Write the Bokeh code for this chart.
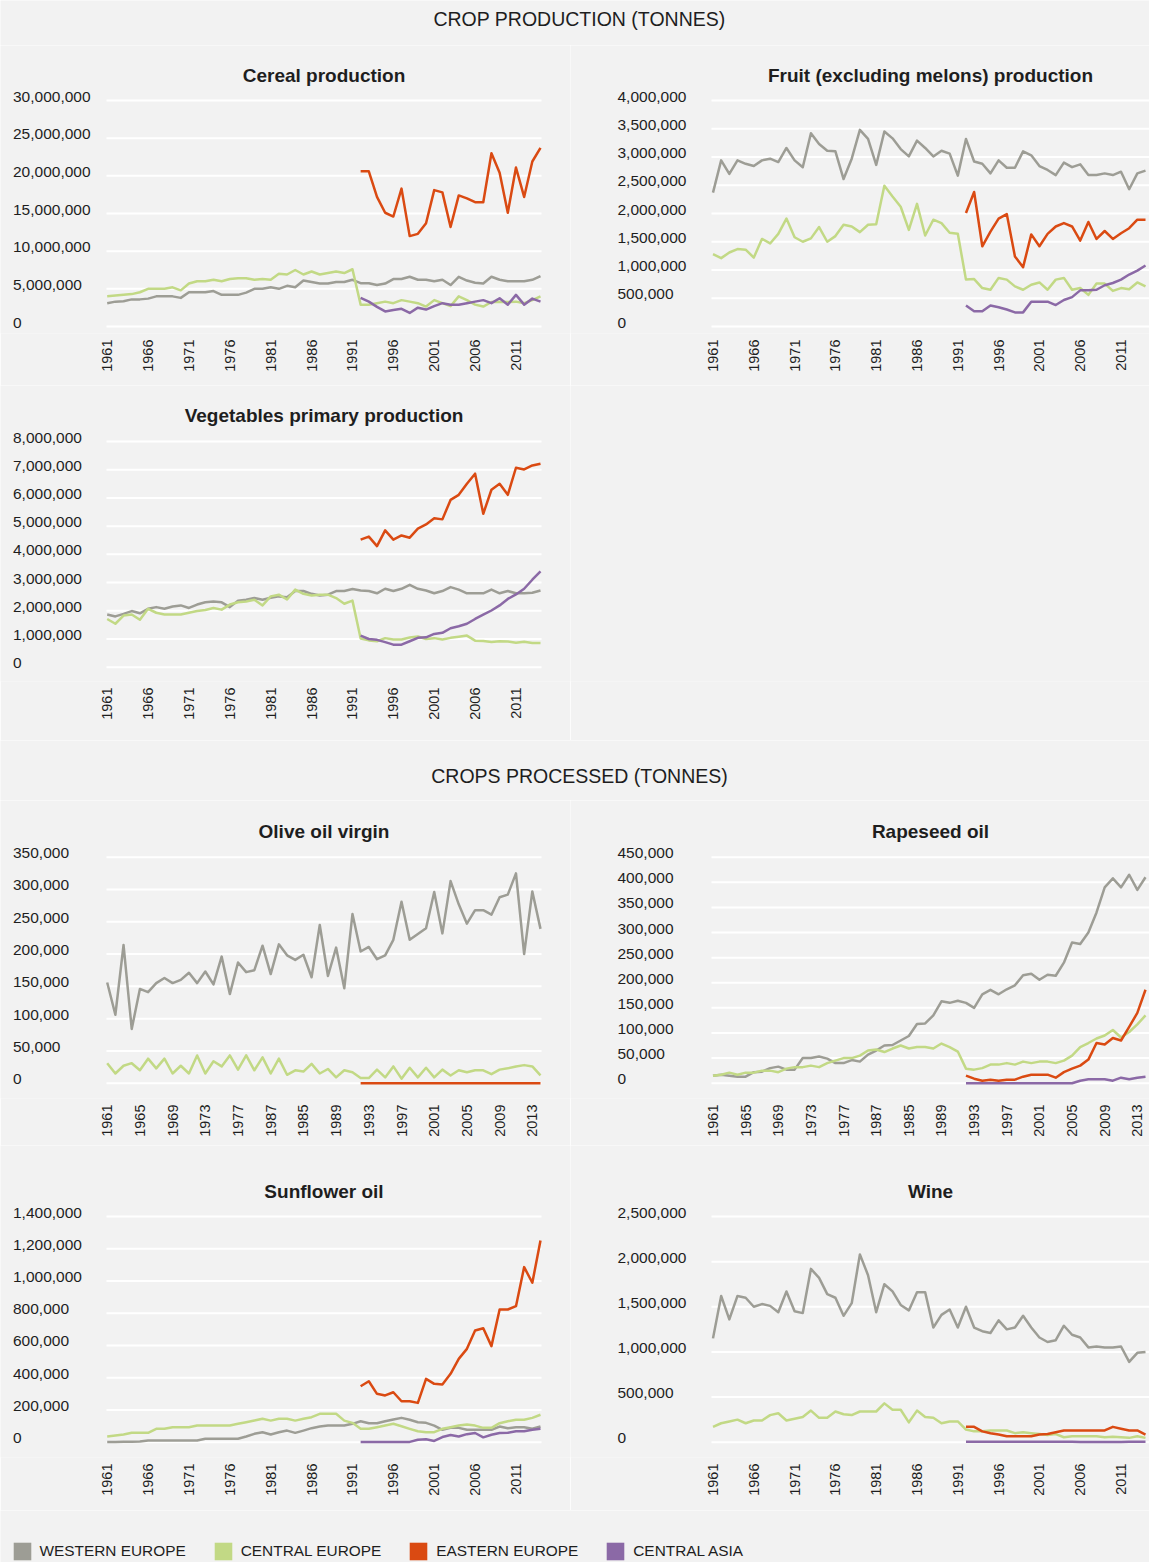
import math
from bokeh.plotting import figure
from bokeh.layouts import column, row
from bokeh.models import Range1d, FixedTicker, Legend, LegendItem
from bokeh.core.properties import value
from bokeh.embed import file_html
from bokeh.resources import INLINE

# ------------------------------------------------------------------ data
YEARS = list(range(1961, 2015))          # all series
YEARS_1992 = list(range(1992, 2015))     # Eastern Europe / Central Asia series

REGIONS = ["WESTERN EUROPE", "CENTRAL EUROPE", "EASTERN EUROPE", "CENTRAL ASIA"]

# Cereal production (million tonnes)
cereal_west = [3.1, 3.3, 3.35, 3.6, 3.6, 3.7, 4.0, 4.0, 4.0, 3.8, 4.55, 4.55, 4.55, 4.7, 4.2, 4.2, 4.2, 4.5,
               5.0, 5.0, 5.2, 5.0, 5.4, 5.2, 6.1, 5.9, 5.7, 5.7, 5.9, 5.9, 6.2, 5.75, 5.75, 5.5, 5.7, 6.3,
               6.3, 6.6, 6.2, 6.2, 6.0, 6.2, 5.5, 6.6, 6.1, 5.8, 5.7, 6.6, 6.2, 6.0, 6.0, 6.0, 6.2, 6.7]
cereal_central = [4.0, 4.1, 4.2, 4.3, 4.55, 5.0, 5.0, 5.0, 5.2, 4.8, 5.7, 6.0, 6.0, 6.2, 6.0, 6.3, 6.4, 6.4,
                  6.2, 6.3, 6.2, 7.0, 6.9, 7.5, 6.9, 7.3, 6.9, 7.1, 7.3, 7.1, 7.6,
                  2.9, 2.9, 3.1, 3.3, 3.1, 3.5, 3.3, 3.1, 2.65, 3.5, 3.1, 2.7, 4.0, 3.5, 2.9, 2.65, 3.25,
                  3.3, 3.25, 3.3, 3.1, 3.5, 4.0]
cereal_east = [20.6, 20.6, 17.2, 15.1, 14.6, 18.3, 12.0, 12.3, 13.7, 18.1, 17.8, 13.2, 17.4, 17.0, 16.5,
               16.5, 23.0, 20.4, 15.1, 21.1, 17.2, 21.9, 23.7]
cereal_asia = [3.8, 3.3, 2.6, 2.0, 2.2, 2.35, 1.8, 2.5, 2.25, 2.7, 3.1, 2.9, 2.9, 3.1, 3.3, 3.5, 3.1, 3.75,
               2.9, 4.2, 2.9, 3.7, 3.3]

# Fruit (excluding melons) production (million tonnes)
fruit_west = [2.37, 2.94, 2.70, 2.94, 2.88, 2.84, 2.94, 2.97, 2.91, 3.16, 2.94, 2.82, 3.42, 3.23, 3.11, 3.10,
              2.61, 2.97, 3.48, 3.32, 2.86, 3.45, 3.33, 3.14, 3.01, 3.29, 3.16, 3.01, 3.11, 3.06, 2.67, 3.32,
              2.92, 2.88, 2.71, 2.94, 2.81, 2.81, 3.10, 3.03, 2.84, 2.77, 2.68, 2.90, 2.82, 2.87, 2.68, 2.68,
              2.71, 2.68, 2.74, 2.43, 2.71, 2.76]
fruit_central = [1.28, 1.21, 1.31, 1.37, 1.36, 1.22, 1.55, 1.47, 1.64, 1.91, 1.58, 1.50, 1.56, 1.76, 1.50,
                 1.60, 1.80, 1.77, 1.67, 1.80, 1.81, 2.49, 2.30, 2.12, 1.71, 2.17, 1.61, 1.89, 1.83, 1.66,
                 1.64, 0.83, 0.84, 0.68, 0.65, 0.86, 0.83, 0.71, 0.65, 0.74, 0.78, 0.65, 0.83, 0.86, 0.65,
                 0.68, 0.56, 0.76, 0.76, 0.63, 0.68, 0.66, 0.78, 0.71]
fruit_east = [2.01, 2.38, 1.42, 1.68, 1.91, 1.99, 1.24, 1.05, 1.63, 1.42, 1.64, 1.77, 1.83, 1.77, 1.52, 1.85,
              1.55, 1.69, 1.55, 1.65, 1.74, 1.89, 1.89]
fruit_asia = [0.37, 0.27, 0.27, 0.37, 0.34, 0.30, 0.25, 0.25, 0.44, 0.44, 0.44, 0.38, 0.47, 0.52, 0.64, 0.64,
              0.65, 0.73, 0.77, 0.83, 0.92, 0.99, 1.08]

# Vegetables primary production (million tonnes)
veg_west = [1.87, 1.80, 1.89, 1.99, 1.91, 2.07, 2.13, 2.07, 2.15, 2.19, 2.10, 2.22, 2.30, 2.33, 2.30, 2.13,
            2.36, 2.39, 2.45, 2.39, 2.46, 2.51, 2.48, 2.70, 2.70, 2.60, 2.54, 2.57, 2.70, 2.70, 2.77, 2.72,
            2.70, 2.62, 2.78, 2.70, 2.78, 2.92, 2.78, 2.72, 2.62, 2.70, 2.84, 2.75, 2.62, 2.62, 2.62, 2.75,
            2.62, 2.70, 2.62, 2.62, 2.64, 2.72]
veg_central = [1.71, 1.54, 1.83, 1.87, 1.68, 2.07, 1.93, 1.87, 1.87, 1.87, 1.93, 1.99, 2.03, 2.10, 2.04, 2.22,
               2.30, 2.33, 2.39, 2.19, 2.51, 2.57, 2.40, 2.75, 2.60, 2.54, 2.57, 2.57, 2.45, 2.25, 2.36,
               1.02, 0.95, 0.92, 1.03, 0.98, 0.98, 1.05, 1.09, 1.00, 1.03, 0.98, 1.04, 1.08, 1.12, 0.94,
               0.93, 0.89, 0.92, 0.91, 0.87, 0.90, 0.86, 0.86]
veg_east = [4.52, 4.63, 4.29, 4.85, 4.52, 4.67, 4.59, 4.91, 5.06, 5.28, 5.24, 5.93, 6.11, 6.50, 6.86, 5.44,
            6.29, 6.50, 6.11, 7.07, 7.01, 7.15, 7.21]
veg_asia = [1.12, 1.00, 0.97, 0.89, 0.80, 0.80, 0.92, 1.04, 1.06, 1.18, 1.22, 1.38, 1.45, 1.54, 1.71, 1.86,
            2.01, 2.19, 2.42, 2.58, 2.78, 3.10, 3.40]

# Olive oil virgin (thousand tonnes)
olive_west = [156, 106, 214, 84, 146, 141, 155, 163, 155, 160, 171, 155, 173, 153, 196, 138, 187, 172, 175,
              213, 169, 215, 198, 191, 199, 164, 245, 166, 210, 147, 262, 204, 211, 192, 198, 222, 281, 222,
              231, 240, 296, 232, 313, 277, 247, 268, 268, 261, 288, 292, 325, 200, 297, 239]
olive_central = [31, 15, 27, 31, 20, 38, 23, 38, 15, 27, 15, 43, 15, 34, 26, 43, 21, 43, 20, 40, 15, 38, 13,
                 20, 18, 30, 15, 22, 9, 20, 17, 8, 8, 21, 9, 26, 7, 24, 9, 24, 9, 21, 12, 20, 17, 20, 20,
                 14, 21, 23, 26, 28, 26, 12]
olive_east = [0, 0, 0, 0, 0, 0, 0, 0, 0, 0, 0, 0, 0, 0, 0, 0, 0, 0, 0, 0, 0, 0, 0]

# Rapeseed oil (thousand tonnes)
rape_west = [15, 17, 15, 13, 13, 22, 23, 30, 33, 27, 27, 50, 50, 53, 49, 40, 40, 46, 43, 57, 65, 75, 76, 85,
             94, 118, 119, 135, 163, 160, 164, 160, 150, 177, 186, 177, 187, 195, 215, 218, 206, 216, 214,
             240, 280, 277, 300, 340, 390, 408, 390, 415, 385, 410]
rape_central = [15, 17, 21, 17, 21, 21, 25, 25, 22, 29, 32, 32, 35, 32, 40, 45, 50, 50, 55, 65, 67, 62, 69,
                75, 69, 72, 72, 69, 79, 72, 63, 29, 27, 30, 37, 37, 40, 37, 43, 40, 43, 43, 40, 45, 55, 72,
                80, 89, 95, 106, 91, 102, 117, 135]
rape_east = [15, 9, 5, 7, 5, 7, 7, 13, 17, 17, 17, 11, 22, 29, 35, 47, 80, 77, 90, 85, 112, 140, 186]
rape_asia = [0, 0, 0, 0, 0, 0, 0, 0, 0, 0, 0, 0, 0, 0, 5, 8, 8, 8, 5, 11, 8, 11, 13]

# Sunflower oil (thousand tonnes)
sun_west = [2, 2, 3, 3, 4, 10, 10, 10, 10, 10, 10, 10, 21, 21, 21, 21, 21, 35, 52, 62, 48, 62, 72, 58, 72,
            87, 97, 103, 103, 103, 114, 130, 118, 118, 130, 141, 151, 139, 124, 120, 103, 77, 89, 89, 77,
            77, 77, 77, 97, 87, 93, 93, 83, 97]
sun_central = [35, 41, 48, 58, 58, 58, 83, 83, 93, 93, 93, 103, 103, 103, 103, 103, 114, 124, 134, 145, 134,
               145, 145, 134, 145, 155, 176, 176, 176, 134, 120, 83, 83, 93, 103, 114, 99, 83, 68, 62, 62,
               83, 93, 103, 110, 103, 89, 89, 118, 130, 139, 139, 151, 170]
sun_east = [347, 378, 300, 290, 310, 254, 254, 244, 393, 362, 358, 424, 517, 579, 693, 707, 596, 823, 823,
            844, 1086, 989, 1251]
sun_asia = [2, 2, 2, 2, 2, 2, 2, 15, 18, 8, 32, 45, 35, 50, 57, 30, 46, 57, 58, 68, 68, 77, 83]

# Wine (million tonnes)
wine_west = [1.15, 1.62, 1.36, 1.62, 1.60, 1.50, 1.53, 1.51, 1.44, 1.67, 1.45, 1.43, 1.92, 1.82, 1.64, 1.60,
             1.40, 1.54, 2.08, 1.85, 1.44, 1.75, 1.67, 1.52, 1.46, 1.66, 1.66, 1.27, 1.41, 1.47, 1.27, 1.50,
             1.27, 1.23, 1.21, 1.35, 1.25, 1.27, 1.40, 1.27, 1.16, 1.11, 1.13, 1.29, 1.19, 1.16, 1.05, 1.06,
             1.05, 1.05, 1.06, 0.89, 0.99, 1.00]
wine_central = [0.17, 0.21, 0.23, 0.25, 0.21, 0.24, 0.24, 0.30, 0.32, 0.24, 0.26, 0.28, 0.35, 0.27, 0.27,
                0.34, 0.31, 0.30, 0.34, 0.34, 0.34, 0.43, 0.36, 0.36, 0.22, 0.35, 0.28, 0.27, 0.21, 0.23,
                0.23, 0.14, 0.12, 0.12, 0.13, 0.13, 0.13, 0.10, 0.11, 0.10, 0.09, 0.08, 0.09, 0.055, 0.066,
                0.066, 0.066, 0.066, 0.055, 0.06, 0.055, 0.048, 0.066, 0.048]
wine_east = [0.17, 0.17, 0.12, 0.10, 0.085, 0.066, 0.066, 0.066, 0.066, 0.085, 0.09, 0.11, 0.13, 0.13, 0.13,
             0.13, 0.13, 0.13, 0.17, 0.15, 0.13, 0.13, 0.085]
wine_asia = [0.006, 0.006, 0.005, 0.005, 0.005, 0.004, 0.004, 0.004, 0.004, 0.004, 0.004, 0.004, 0.004,
             0.004, 0.003, 0.003, 0.003, 0.003, 0.003, 0.003, 0.004, 0.004, 0.004]

# tick values / labels
cereal_yticks = [0, 5000000, 10000000, 15000000, 20000000, 25000000, 30000000]
fruit_yticks = [0, 500000, 1000000, 1500000, 2000000, 2500000, 3000000, 3500000, 4000000]
veg_yticks = [0, 1000000, 2000000, 3000000, 4000000, 5000000, 6000000, 7000000, 8000000]
olive_yticks = [0, 50000, 100000, 150000, 200000, 250000, 300000, 350000]
rape_yticks = [0, 50000, 100000, 150000, 200000, 250000, 300000, 350000, 400000, 450000]
sun_yticks = [0, 200000, 400000, 600000, 800000, 1000000, 1200000, 1400000]
wine_yticks = [0, 500000, 1000000, 1500000, 2000000, 2500000]

xticks_5yr = [1961, 1966, 1971, 1976, 1981, 1986, 1991, 1996, 2001, 2006, 2011]
xticks_4yr = [1961, 1965, 1969, 1973, 1977, 1981, 1985, 1989, 1993, 1997, 2001, 2005, 2009, 2013]
xlabels_4yr_override = {1981: "1987"}   # as printed in the original

# ------------------------------------------------------------------ style
BG = "#f2f2f2"
TXT = "#1e1e1e"
FONT = "Liberation Sans"
C_WEST, C_CENTRAL, C_EAST, C_ASIA = "#9d9d95", "#c2d985", "#da4a12", "#8b69a6"
COLORS = [C_WEST, C_CENTRAL, C_EAST, C_ASIA]

M = 1e6
K = 1e3


def scale(vals, f):
    return [v * f for v in vals]


# page geometry of each row: top, height, frame bottom, top gridline y, zero gridline y, title y
ROW1 = (45, 340, 333, 100, 326, 75)
ROW2 = (385, 355, 681, 441, 666.7, 415)
ROW3 = (800, 345, 1098, 856.7, 1082.7, 831)
ROW4 = (1145, 365, 1457, 1216, 1441.7, 1191)


def panel(title, series, yticks, xticks, side, geo, overrides=None):
    top, height, fb, g_top, g_zero, title_y = geo
    if side == "left":
        fx0, fx1, gx0, gx1, dx0, dx1, lx = 0, 570, 106, 541, 106.7, 540, 12.5
    else:
        fx0, fx1, gx0, gx1, dx0, dx1, lx = 570, 1149, 711, 1149, 712.5, 1145, 617
    first, last = YEARS[0], YEARS[-1]
    kx = (dx1 - dx0) / (last - first)
    x_start = first - (dx0 - fx0) / kx
    x_end = last + (fx1 - dx1) / kx
    ymax = yticks[-1]
    ky = (g_zero - g_top) / ymax
    y_start = -(fb - g_zero) / ky
    y_end = (g_zero - top) / ky

    def X(px):
        return x_start + (px - fx0) / kx

    def Y(py):
        return (g_zero - py) / ky

    p = figure(width=fx1 - fx0, height=height, x_range=Range1d(x_start, x_end),
               y_range=Range1d(y_start, y_end), toolbar_location=None, output_backend="svg",
               y_axis_type=None, min_border_left=0, min_border_right=0, min_border_top=0,
               min_border_bottom=height - (fb - top), background_fill_color=BG,
               border_fill_color=BG, outline_line_color=None)
    p.xgrid.visible = False
    n = len(yticks)
    p.segment(x0=[X(gx0)] * n, x1=[X(gx1)] * n, y0=yticks, y1=yticks,
              line_color="white", line_width=2)
    p.text(x=[X(lx)] * n, y=yticks, text=[f"{v:,}" for v in yticks], text_align="left",
           text_baseline="middle", y_offset=-4, text_font=value(FONT), text_font_size="15.5px",
           text_color=TXT)
    p.text(x=[X((gx0 + gx1) / 2)], y=[Y(title_y)], text=[title], text_align="center",
           text_baseline="middle", text_font=value(FONT), text_font_size="19px",
           text_font_style="bold", text_color=TXT)
    for xs, ys, color in series:
        p.line(xs, ys, line_color=color, line_width=2.5, line_join="round")
    ax = p.xaxis[0]
    ax.ticker = FixedTicker(ticks=xticks)
    if overrides:
        ax.major_label_overrides = overrides
    ax.major_label_orientation = math.pi / 2
    ax.axis_line_color = None
    ax.major_tick_line_color = None
    ax.minor_tick_line_color = None
    ax.major_tick_in = 0
    ax.major_tick_out = 0
    ax.major_label_standoff = 6
    ax.major_label_text_font = FONT
    ax.major_label_text_font_size = "14.5px"
    ax.major_label_text_color = TXT
    return p


def blank(width, height):
    return figure(width=width, height=height, x_range=Range1d(0, width), y_range=Range1d(0, height),
                  x_axis_type=None, y_axis_type=None, toolbar_location=None, output_backend="svg",
                  min_border=0, background_fill_color=BG, border_fill_color=BG, outline_line_color=None)


def banner(text, width, height, center_from_top, cx):
    p = blank(width, height)
    p.text(x=[cx], y=[height - center_from_top], text=[text], text_align="center",
           text_baseline="middle", text_font=value(FONT), text_font_size="19.5px", text_color=TXT)
    return p


# ------------------------------------------------------------------ panels
cereal = panel("Cereal production", [
    (YEARS, scale(cereal_west, M), C_WEST),
    (YEARS, scale(cereal_central, M), C_CENTRAL),
    (YEARS_1992, scale(cereal_east, M), C_EAST),
    (YEARS_1992, scale(cereal_asia, M), C_ASIA)], cereal_yticks, xticks_5yr, "left", ROW1)

fruit = panel("Fruit (excluding melons) production", [
    (YEARS, scale(fruit_west, M), C_WEST),
    (YEARS, scale(fruit_central, M), C_CENTRAL),
    (YEARS_1992, scale(fruit_east, M), C_EAST),
    (YEARS_1992, scale(fruit_asia, M), C_ASIA)], fruit_yticks, xticks_5yr, "right", ROW1)

veg = panel("Vegetables primary production", [
    (YEARS, scale(veg_west, M), C_WEST),
    (YEARS, scale(veg_central, M), C_CENTRAL),
    (YEARS_1992, scale(veg_east, M), C_EAST),
    (YEARS_1992, scale(veg_asia, M), C_ASIA)], veg_yticks, xticks_5yr, "left", ROW2)

olive = panel("Olive oil virgin", [
    (YEARS, scale(olive_west, K), C_WEST),
    (YEARS, scale(olive_central, K), C_CENTRAL),
    (YEARS_1992, scale(olive_east, K), C_EAST)], olive_yticks, xticks_4yr, "left", ROW3,
    xlabels_4yr_override)

rape = panel("Rapeseed oil", [
    (YEARS, scale(rape_west, K), C_WEST),
    (YEARS, scale(rape_central, K), C_CENTRAL),
    (YEARS_1992, scale(rape_east, K), C_EAST),
    (YEARS_1992, scale(rape_asia, K), C_ASIA)], rape_yticks, xticks_4yr, "right", ROW3,
    xlabels_4yr_override)

sun = panel("Sunflower oil", [
    (YEARS, scale(sun_west, K), C_WEST),
    (YEARS, scale(sun_central, K), C_CENTRAL),
    (YEARS_1992, scale(sun_east, K), C_EAST),
    (YEARS_1992, scale(sun_asia, K), C_ASIA)], sun_yticks, xticks_5yr, "left", ROW4)

wine = panel("Wine", [
    (YEARS, scale(wine_west, M), C_WEST),
    (YEARS, scale(wine_central, M), C_CENTRAL),
    (YEARS_1992, scale(wine_east, M), C_EAST),
    (YEARS_1992, scale(wine_asia, M), C_ASIA)], wine_yticks, xticks_5yr, "right", ROW4)

# ------------------------------------------------------------------ banners, legend
title1 = banner("CROP PRODUCTION (TONNES)", 1149, 45, 18, 579)
title2 = banner("CROPS PROCESSED (TONNES)", 1149, 60, 35, 579)
empty_right = blank(579, 355)

leg = blank(1149, 52)
items = []
for name, color in zip(REGIONS, COLORS):
    # zero-size key glyph: only used to draw the legend swatch
    r = leg.quad(left=[0], right=[0], top=[0], bottom=[0], fill_color=color, line_color=None)
    items.append(LegendItem(label=name, renderers=[r]))
legend = Legend(items=items, location=(10.5, 0), orientation="horizontal", glyph_width=22,
                glyph_height=22, label_standoff=7, spacing=26, padding=0, margin=0,
                border_line_color=None, background_fill_alpha=0, label_text_font=FONT,
                label_text_font_size="15.4px", label_text_color=TXT, label_height=22)
leg.add_layout(legend)

layout = column(
    title1,
    row(cereal, fruit),
    row(veg, empty_right),
    title2,
    row(olive, rape),
    row(sun, wine),
    leg,
)

open("out.html", "w").write(file_html(layout, INLINE))
